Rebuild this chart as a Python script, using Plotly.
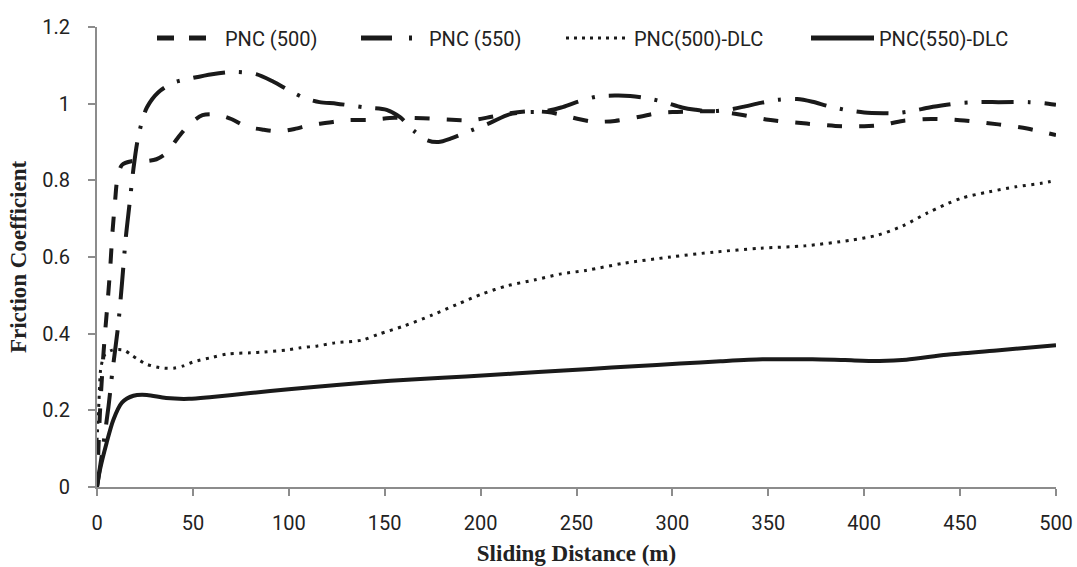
import plotly.graph_objects as go

# ---- data ----
d_pnc500 = [0, 1.5, 3, 4, 5.5, 7, 8, 9.5, 10.5, 13, 18, 25, 31, 36, 42, 48, 55, 62, 70, 78, 87, 95, 103, 111, 120, 130, 143, 155, 170, 185, 195, 205, 215, 225, 235, 243, 251, 259, 270, 283, 292, 300, 312, 322, 335, 350, 370, 385, 400, 410, 420, 435, 450, 470, 485, 500]
v_pnc500 = [0.0, 0.19, 0.32, 0.39, 0.48, 0.58, 0.66, 0.75, 0.8, 0.84, 0.85, 0.85, 0.855, 0.87, 0.91, 0.945, 0.97, 0.972, 0.96, 0.94, 0.932, 0.928, 0.934, 0.944, 0.95, 0.957, 0.958, 0.963, 0.962, 0.958, 0.957, 0.965, 0.975, 0.98, 0.978, 0.97, 0.96, 0.953, 0.955, 0.966, 0.975, 0.978, 0.98, 0.98, 0.972, 0.958, 0.948, 0.942, 0.941, 0.945, 0.955, 0.96, 0.957, 0.946, 0.935, 0.918]

d_pnc550 = [0, 3, 6, 8, 11, 13, 15, 17, 19, 21, 23, 26, 32, 40, 48, 60, 72, 83, 92, 100, 108, 116, 125, 140, 151, 158, 165, 172, 178, 185, 195, 205, 215, 225, 232, 242, 250, 260, 270, 278, 286, 295, 305, 312, 320, 329, 338, 346, 355, 365, 373, 381, 390, 400, 410, 416, 425, 434, 443, 451, 460, 470, 486, 496, 500]
v_pnc550 = [0.0, 0.1, 0.21, 0.3, 0.42, 0.53, 0.65, 0.74, 0.83, 0.9, 0.945, 0.99, 1.03, 1.055, 1.065, 1.077, 1.083, 1.077, 1.057, 1.035, 1.015, 1.004, 1.0, 0.99, 0.984, 0.965, 0.93, 0.905, 0.9, 0.91, 0.93, 0.95, 0.972, 0.978, 0.979, 0.99, 1.004, 1.018, 1.021, 1.02, 1.015, 1.005, 0.99, 0.984, 0.98, 0.984, 0.993, 1.002, 1.01, 1.012, 1.005, 0.994, 0.984, 0.977, 0.975, 0.975, 0.981, 0.99, 0.997, 1.002, 1.004, 1.004, 1.004, 1.0, 0.997]

d_dlc500 = [0, 1, 2, 4, 8, 14, 18, 22, 26, 31, 35, 40, 45, 50, 60, 68, 80, 87, 100, 106, 115, 124, 138, 147, 160, 175, 188, 201, 214, 228, 242, 255, 275, 299, 322, 346, 369, 393, 407, 420, 433, 442, 451, 465, 479, 493, 500]
v_dlc500 = [0.12, 0.22, 0.31, 0.345, 0.357, 0.357, 0.344, 0.331, 0.32, 0.313, 0.31, 0.31, 0.316, 0.326, 0.338, 0.347, 0.35, 0.352, 0.358, 0.363, 0.368, 0.376, 0.383, 0.399, 0.42, 0.449, 0.477, 0.504, 0.525, 0.54, 0.556, 0.565, 0.584, 0.6, 0.613, 0.623, 0.629, 0.644, 0.657, 0.681, 0.715, 0.736, 0.754, 0.77, 0.783, 0.793, 0.8]

d_dlc550 = [0, 1.5, 5, 8.5, 13, 19, 26, 36, 48, 60, 80, 100, 125, 153, 180, 205, 230, 257, 280, 304, 325, 347, 373, 390, 408, 422, 443, 469, 500]
v_dlc550 = [0.0, 0.044, 0.115, 0.175, 0.22, 0.238, 0.24, 0.232, 0.23, 0.235, 0.245, 0.255, 0.266, 0.277, 0.285, 0.292, 0.3, 0.308, 0.315, 0.322, 0.328, 0.333, 0.333, 0.331, 0.329, 0.332, 0.345, 0.356, 0.37]

names = ["PNC (500)", "PNC (550)", "PNC(500)-DLC", "PNC(550)-DLC"]
x_ticks = [0, 50, 100, 150, 200, 250, 300, 350, 400, 450, 500]
y_ticks = [0, 0.2, 0.4, 0.6, 0.8, 1, 1.2]
y_ticktext = ["0", "0.2", "0.4", "0.6", "0.8", "1", "1.2"]

LABEL_FONT = "Roboto, Liberation Sans, sans-serif"
TITLE_FONT = "Liberation Serif, Times New Roman, serif"
INK = "#1a1a1a"

series = [
    (d_pnc500, v_pnc500, dict(color=INK, width=4, dash="15px,17px")),
    (d_pnc550, v_pnc550, dict(color=INK, width=4, dash="32px,14px,3px,14px")),
    (d_dlc500, v_dlc500, dict(color=INK, width=3, dash="3px,5.5px")),
    (d_dlc550, v_dlc550, dict(color=INK, width=4)),
]
# legend-sample line styles (shorter patterns so they show in the key)
legend_styles = [
    dict(color=INK, width=5, dash="17px,15px"),
    dict(color=INK, width=5, dash="31px,17px,3px,20px"),
    dict(color=INK, width=3, dash="3px,5px"),
    dict(color=INK, width=5),
]

legend_px = [152, 356, 561, 806]  # left edges of the four keys, in pixels

PLOT_L, PLOT_R, PLOT_T, PLOT_B = 97, 1056, 27, 487

fig = go.Figure()
for i, (xs, ys, ln) in enumerate(series):
    fig.add_trace(go.Scatter(
        x=xs, y=ys, mode="lines", name=names[i],
        line=dict(shape="spline", smoothing=0.8, **ln),
        showlegend=False,
    ))
for i in range(4):
    lname = "legend" if i == 0 else f"legend{i+1}"
    fig.add_trace(go.Scatter(
        x=[None], y=[None], mode="lines", name=names[i],
        line=legend_styles[i], legend=lname, showlegend=True,
    ))

legend_common = dict(
    orientation="h", xref="paper", yref="paper",
    yanchor="middle", y=(PLOT_B - 38) / (PLOT_B - PLOT_T), xanchor="left",
    bgcolor="rgba(0,0,0,0)", font=dict(family=LABEL_FONT, size=20, color="#222"),
    itemwidth=63, tracegroupgap=0,
)
layout_legends = {}
for i, lx in enumerate(legend_px):
    key = "legend" if i == 0 else f"legend{i+1}"
    layout_legends[key] = dict(legend_common, x=(lx - PLOT_L) / (PLOT_R - PLOT_L))

axis_common = dict(
    showgrid=False, zeroline=False, showline=True, linecolor="#8c8c8c", linewidth=2,
    ticks="outside", ticklen=7, tickcolor="#8c8c8c", tickwidth=1.5,
    tickfont=dict(family=LABEL_FONT, size=20, color="#222"),
)

fig.update_layout(
    width=1077, height=567,
    margin=dict(l=PLOT_L, r=1077 - PLOT_R, t=PLOT_T, b=567 - PLOT_B, autoexpand=False),
    paper_bgcolor="white", plot_bgcolor="white",
    showlegend=True,
    **layout_legends,
    xaxis=dict(
        range=[0, 500], tickvals=x_ticks, ticktext=[str(t) for t in x_ticks],
        ticklabelstandoff=10,
        title=dict(text="<b>Sliding Distance (m)</b>", font=dict(family=TITLE_FONT, size=23, color="#222"), standoff=11),
        **axis_common,
    ),
    yaxis=dict(
        range=[0, 1.2], tickvals=y_ticks, ticktext=y_ticktext,
        ticklabelstandoff=14,
        title=dict(text="<b>Friction Coefficient</b>", font=dict(family=TITLE_FONT, size=23, color="#222"), standoff=9),
        **axis_common,
    ),
)

fig.write_html("out.html")
